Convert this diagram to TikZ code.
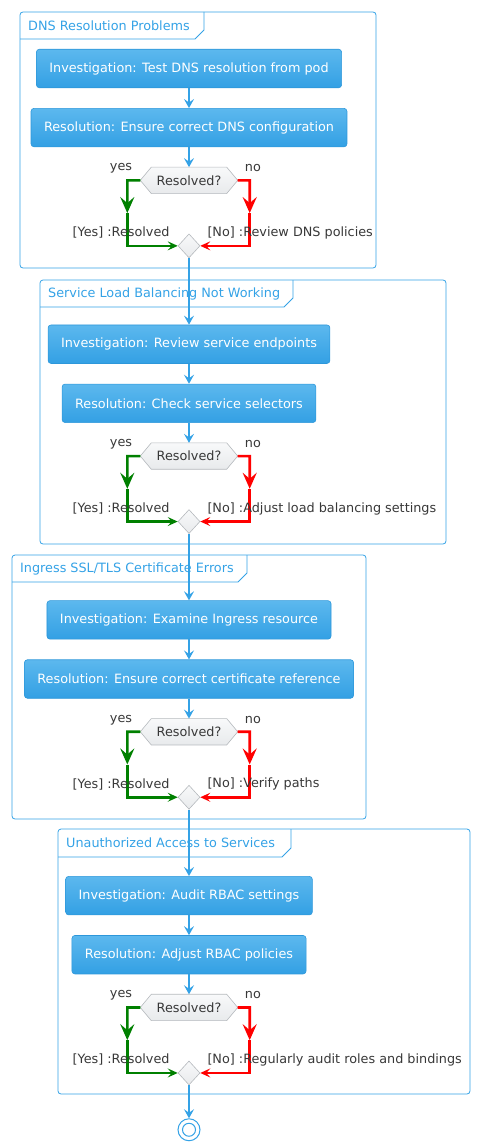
\documentclass[tikz,border=0pt]{standalone}
\usepackage{fontspec}
\setmainfont{DejaVu Sans}
\usepackage{tikz}
\usetikzlibrary{positioning,calc,arrows.meta,shapes.geometric,backgrounds}
\definecolor{FlowBlue}{HTML}{34A2E6}
\definecolor{BoxTop}{HTML}{5CB8EE}
\definecolor{BoxBottom}{HTML}{33A0E4}
\definecolor{BoxEdge}{HTML}{2D97DA}
\definecolor{HexTop}{HTML}{F8F9FA}
\definecolor{HexBottom}{HTML}{E8EAEC}
\definecolor{HexEdge}{HTML}{B5B9BD}
\definecolor{LabelGray}{HTML}{383838}
\definecolor{YesGreen}{HTML}{008000}
\definecolor{NoRed}{HTML}{FF0000}

\begin{document}
\begin{tikzpicture}[x=1pt, y=-1pt,
    every node/.style={font=\fontsize{12.8}{15}\selectfont},
    stepbox/.style={draw=BoxEdge, line width=0.6pt, rounded corners=3pt,
                    top color=BoxTop, bottom color=BoxBottom, text=white,
                    inner xsep=13pt, minimum height=38.5pt},
    checkhex/.style={text=LabelGray, minimum width=97pt, minimum height=26pt, inner sep=0pt},
    hexshade/.style={draw=HexEdge, line width=0.6pt, top color=HexTop, bottom color=HexBottom},
    mergedia/.style={diamond, draw=HexEdge, line width=0.6pt, top color=HexTop,
                     bottom color=HexBottom, minimum width=22pt, minimum height=24pt,
                     inner sep=0pt},
    stopdot/.style={circle, draw=FlowBlue, line width=1pt, fill=white,
                    minimum size=22pt, inner sep=0pt,
                    path picture={\draw[FlowBlue, line width=1pt]
                      (path picture bounding box.center) circle (6.5pt);}},
    branchtext/.style={text=LabelGray, inner sep=0pt},
    frametitle/.style={text=FlowBlue, inner sep=0pt, anchor=west},
    framebox/.style={draw=FlowBlue, line width=0.8pt, rounded corners=3pt},
    frametab/.style={draw=FlowBlue, line width=0.8pt},
    flow/.style={draw=FlowBlue, line width=2.4pt,
                 -{Stealth[length=9pt, width=10pt, inset=3.5pt]}},
    yesline/.style={draw=YesGreen, line width=2.6pt,
                    -{Stealth[length=16pt, width=14pt, inset=6pt]}},
    yesjoin/.style={draw=YesGreen, line width=2.6pt,
                    -{Stealth[length=10pt, width=9pt, inset=4pt]}},
    noline/.style={draw=NoRed, line width=2.6pt,
                   -{Stealth[length=16pt, width=14pt, inset=6pt]}},
    nojoin/.style={draw=NoRed, line width=2.6pt,
                   -{Stealth[length=10pt, width=9pt, inset=4pt]}}]
  \useasboundingbox (0,0) rectangle (480,1148);

  % frames
  \draw[framebox] (20,12) rectangle (376,268);
  \draw[frametab] (20,39) -- (195,39) -- (204,30) -- (204,12);
  \node[frametitle] (t1) at (28,25.5) {DNS Resolution Problems};
  \draw[framebox] (40,280) rectangle (446,544);
  \draw[frametab] (40,307) -- (284,307) -- (293,298) -- (293,280);
  \node[frametitle] (t2) at (48,293.5) {Service Load Balancing Not Working};
  \draw[framebox] (12,555) rectangle (366,819);
  \draw[frametab] (12,582) -- (238,582) -- (247,573) -- (247,555);
  \node[frametitle] (t3) at (20,568.5) {Ingress SSL/TLS Certificate Errors};
  \draw[framebox] (58,829) rectangle (470,1094);
  \draw[frametab] (58,857) -- (282,857) -- (291,848) -- (291,829);
  \node[frametitle] (t4) at (66,843) {Unauthorized Access to Services};

  % DNS
  \node[stepbox] (inv1) at (189,68.5) {Investigation: Test DNS resolution from pod};
  \node[stepbox, below=20pt of inv1] (res1) {Resolution: Ensure correct DNS configuration};
  \node[checkhex, below=20pt of res1] (hex1) {Resolved?};
  \node[mergedia, below=40pt of hex1] (dia1) {};
  % load balancing
  \node[stepbox, below=66.5pt of dia1] (inv2) {Investigation: Review service endpoints};
  \node[stepbox, below=20pt of inv2] (res2) {Resolution: Check service selectors};
  \node[checkhex, below=20pt of res2] (hex2) {Resolved?};
  \node[mergedia, below=40pt of hex2] (dia2) {};
  % ingress
  \node[stepbox, below=66.5pt of dia2] (inv3) {Investigation: Examine Ingress resource};
  \node[stepbox, below=20pt of inv3] (res3) {Resolution: Ensure correct certificate reference};
  \node[checkhex, below=20pt of res3] (hex3) {Resolved?};
  \node[mergedia, below=40pt of hex3] (dia3) {};
  % rbac
  \node[stepbox, below=66.5pt of dia3] (inv4) {Investigation: Audit RBAC settings};
  \node[stepbox, below=20pt of inv4] (res4) {Resolution: Adjust RBAC policies};
  \node[checkhex, below=20pt of res4] (hex4) {Resolved?};
  \node[mergedia, below=40pt of hex4] (dia4) {};
  \node[stopdot, below=33pt of dia4] (stop) {};

  % hexagon outlines behind the questions
  \begin{scope}[on background layer]
    \path[hexshade] (hex1.west) -- ([xshift=11pt]hex1.north west) -- ([xshift=-11pt]hex1.north east)
      -- (hex1.east) -- ([xshift=-11pt]hex1.south east) -- ([xshift=11pt]hex1.south west) -- cycle;
    \path[hexshade] (hex2.west) -- ([xshift=11pt]hex2.north west) -- ([xshift=-11pt]hex2.north east)
      -- (hex2.east) -- ([xshift=-11pt]hex2.south east) -- ([xshift=11pt]hex2.south west) -- cycle;
    \path[hexshade] (hex3.west) -- ([xshift=11pt]hex3.north west) -- ([xshift=-11pt]hex3.north east)
      -- (hex3.east) -- ([xshift=-11pt]hex3.south east) -- ([xshift=11pt]hex3.south west) -- cycle;
    \path[hexshade] (hex4.west) -- ([xshift=11pt]hex4.north west) -- ([xshift=-11pt]hex4.north east)
      -- (hex4.east) -- ([xshift=-11pt]hex4.south east) -- ([xshift=11pt]hex4.south west) -- cycle;
  \end{scope}

  \draw[flow] (inv1) -- (res1);
  \draw[flow] (res1) -- (hex1);
  \draw[flow] (dia1) -- (inv2);
  \draw[flow] (inv2) -- (res2);
  \draw[flow] (res2) -- (hex2);
  \draw[flow] (dia2) -- (inv3);
  \draw[flow] (inv3) -- (res3);
  \draw[flow] (res3) -- (hex3);
  \draw[flow] (dia3) -- (inv4);
  \draw[flow] (inv4) -- (res4);
  \draw[flow] (res4) -- (hex4);
  \draw[flow] (dia4) -- (stop);

  % branches
  \coordinate (yc1) at ([xshift=-13pt]hex1.west);
  \coordinate (ym1) at ($(yc1)!0.5!(yc1 |- dia1)$);
  \coordinate (nc1) at ([xshift=12pt]hex1.east);
  \coordinate (nm1) at ($(nc1)!0.5!(nc1 |- dia1)$);
  \draw[yesline] (hex1.west) -- (yc1) -- (ym1);
  \draw[yesjoin] (ym1) |- (dia1.west);
  \draw[noline] (hex1.east) -- (nc1) -- (nm1);
  \draw[nojoin] (nm1) |- (dia1.east);

  \coordinate (yc2) at ([xshift=-13pt]hex2.west);
  \coordinate (ym2) at ($(yc2)!0.5!(yc2 |- dia2)$);
  \coordinate (nc2) at ([xshift=12pt]hex2.east);
  \coordinate (nm2) at ($(nc2)!0.5!(nc2 |- dia2)$);
  \draw[yesline] (hex2.west) -- (yc2) -- (ym2);
  \draw[yesjoin] (ym2) |- (dia2.west);
  \draw[noline] (hex2.east) -- (nc2) -- (nm2);
  \draw[nojoin] (nm2) |- (dia2.east);

  \coordinate (yc3) at ([xshift=-13pt]hex3.west);
  \coordinate (ym3) at ($(yc3)!0.5!(yc3 |- dia3)$);
  \coordinate (nc3) at ([xshift=12pt]hex3.east);
  \coordinate (nm3) at ($(nc3)!0.5!(nc3 |- dia3)$);
  \draw[yesline] (hex3.west) -- (yc3) -- (ym3);
  \draw[yesjoin] (ym3) |- (dia3.west);
  \draw[noline] (hex3.east) -- (nc3) -- (nm3);
  \draw[nojoin] (nm3) |- (dia3.east);

  \coordinate (yc4) at ([xshift=-13pt]hex4.west);
  \coordinate (ym4) at ($(yc4)!0.5!(yc4 |- dia4)$);
  \coordinate (nc4) at ([xshift=12pt]hex4.east);
  \coordinate (nm4) at ($(nc4)!0.5!(nc4 |- dia4)$);
  \draw[yesline] (hex4.west) -- (yc4) -- (ym4);
  \draw[yesjoin] (ym4) |- (dia4.west);
  \draw[noline] (hex4.east) -- (nc4) -- (nm4);
  \draw[nojoin] (nm4) |- (dia4.east);

  % branch labels
  \node[branchtext, anchor=east] (yes1) at ([xshift=-8pt,yshift=12pt]hex1.west) {yes};
  \node[branchtext, anchor=west] (no1) at ([xshift=7pt,yshift=12pt]hex1.east) {no};
  \node[branchtext, anchor=east] (ok1) at ([xshift=-8pt,yshift=13pt]dia1.west) {[Yes] :Resolved};
  \node[branchtext, anchor=west] (fix1) at ([xshift=7pt,yshift=13pt]dia1.east) {[No] :Review DNS policies};
  \node[branchtext, anchor=east] (yes2) at ([xshift=-8pt,yshift=12pt]hex2.west) {yes};
  \node[branchtext, anchor=west] (no2) at ([xshift=7pt,yshift=12pt]hex2.east) {no};
  \node[branchtext, anchor=east] (ok2) at ([xshift=-8pt,yshift=13pt]dia2.west) {[Yes] :Resolved};
  \node[branchtext, anchor=west] (fix2) at ([xshift=7pt,yshift=13pt]dia2.east) {[No] :Adjust load balancing settings};
  \node[branchtext, anchor=east] (yes3) at ([xshift=-8pt,yshift=12pt]hex3.west) {yes};
  \node[branchtext, anchor=west] (no3) at ([xshift=7pt,yshift=12pt]hex3.east) {no};
  \node[branchtext, anchor=east] (ok3) at ([xshift=-8pt,yshift=13pt]dia3.west) {[Yes] :Resolved};
  \node[branchtext, anchor=west] (fix3) at ([xshift=7pt,yshift=13pt]dia3.east) {[No] :Verify paths};
  \node[branchtext, anchor=east] (yes4) at ([xshift=-8pt,yshift=12pt]hex4.west) {yes};
  \node[branchtext, anchor=west] (no4) at ([xshift=7pt,yshift=12pt]hex4.east) {no};
  \node[branchtext, anchor=east] (ok4) at ([xshift=-8pt,yshift=13pt]dia4.west) {[Yes] :Resolved};
  \node[branchtext, anchor=west] (fix4) at ([xshift=7pt,yshift=13pt]dia4.east) {[No] :Regularly audit roles and bindings};
\end{tikzpicture}
\end{document}
